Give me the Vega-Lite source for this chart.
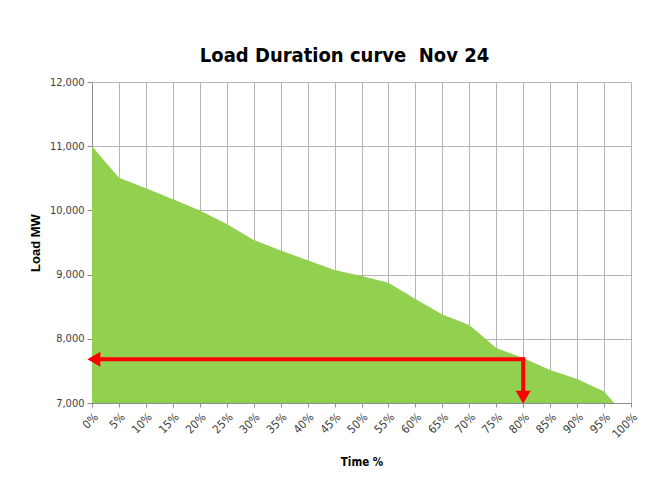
{
  "$schema": "https://vega.github.io/schema/vega-lite/v6.json",
  "width": 539,
  "height": 321,
  "autosize": {"type": "none"},
  "padding": {"left": 92, "top": 82, "right": 32, "bottom": 80},
  "background": "white",
  "title": {
    "text": "Load Duration curve \u00a0Nov 24",
    "font": "DejaVu Sans Condensed, Lato, sans-serif",
    "fontSize": 20,
    "fontWeight": "bold",
    "color": "#000000",
    "anchor": "middle",
    "dx": -17,
    "offset": 10
  },
  "config": {
    "view": {"stroke": null},
    "axis": {
      "labelFont": "DejaVu Sans Condensed, Lato, sans-serif",
      "labelFontSize": 11,
      "labelColor": "#404040",
      "titleFont": "DejaVu Sans Condensed, Lato, sans-serif",
      "titleFontWeight": "bold",
      "titleColor": "#000000",
      "gridColor": "#b5b5b5",
      "gridWidth": 1,
      "gridOpacity": 1,
      "domainColor": "#8c8c8c",
      "tickColor": "#8c8c8c",
      "tickSize": 5
    }
  },
  "data": {
    "values": [
      {"series": "load", "x": 0, "y": 11000},
      {"series": "load", "x": 5, "y": 10510},
      {"series": "load", "x": 10, "y": 10345},
      {"series": "load", "x": 15, "y": 10175},
      {"series": "load", "x": 20, "y": 10000},
      {"series": "load", "x": 25, "y": 9790},
      {"series": "load", "x": 30, "y": 9540},
      {"series": "load", "x": 35, "y": 9375},
      {"series": "load", "x": 40, "y": 9225},
      {"series": "load", "x": 45, "y": 9070},
      {"series": "load", "x": 50, "y": 8980},
      {"series": "load", "x": 55, "y": 8875},
      {"series": "load", "x": 60, "y": 8620},
      {"series": "load", "x": 65, "y": 8380},
      {"series": "load", "x": 70, "y": 8215},
      {"series": "load", "x": 75, "y": 7855},
      {"series": "load", "x": 80, "y": 7700},
      {"series": "load", "x": 85, "y": 7515},
      {"series": "load", "x": 90, "y": 7375},
      {"series": "load", "x": 95, "y": 7180},
      {"series": "load", "x": 100, "y": 6700},
      {"series": "hline", "x": 1, "x2": 80, "y": 7680},
      {"series": "vline", "x": 80, "y": 7680, "y2": 7150},
      {"series": "lhead", "x": 0.35, "y": 7680},
      {"series": "dhead", "x": 80, "y": 7090}
    ]
  },
  "encoding": {
    "x": {
      "field": "x",
      "type": "quantitative",
      "scale": {"domain": [0, 100], "nice": false},
      "axis": {
        "title": "Time %",
        "titleFontSize": 11.5,
        "titlePadding": 16,
        "values": [0, 5, 10, 15, 20, 25, 30, 35, 40, 45, 50, 55, 60, 65, 70, 75, 80, 85, 90, 95, 100],
        "labelExpr": "datum.value + '%'",
        "labelAngle": -45,
        "labelFontSize": 11.5,
        "labelPadding": 4,
        "labelOverlap": false,
        "labelFlush": false,
        "labelBound": false,
        "tickSize": 4,
        "grid": true
      }
    },
    "y": {
      "field": "y",
      "type": "quantitative",
      "scale": {"domain": [7000, 12000], "zero": false, "nice": false},
      "axis": {
        "title": "Load MW",
        "titleFont": "Liberation Sans, sans-serif",
        "titleFontSize": 13,
        "titlePadding": 7,
        "values": [7000, 8000, 9000, 10000, 11000, 12000],
        "format": ",d",
        "labelPadding": 3,
        "labelOverlap": false,
        "labelFlush": false,
        "grid": true
      }
    }
  },
  "layer": [
    {
      "transform": [{"filter": "datum.series === 'load'"}],
      "mark": {"type": "area", "color": "#92D050", "clip": true, "opacity": 1}
    },
    {
      "transform": [{"filter": "datum.series === 'hline'"}],
      "mark": {"type": "rule", "color": "#FF0000", "strokeWidth": 4, "strokeCap": "square"},
      "encoding": {"x2": {"field": "x2"}}
    },
    {
      "transform": [{"filter": "datum.series === 'vline'"}],
      "mark": {"type": "rule", "color": "#FF0000", "strokeWidth": 4, "strokeCap": "square"},
      "encoding": {"y2": {"field": "y2"}}
    },
    {
      "transform": [{"filter": "datum.series === 'lhead'"}],
      "mark": {"type": "point", "shape": "triangle-left", "filled": true, "color": "#FF0000", "size": 225, "opacity": 1}
    },
    {
      "transform": [{"filter": "datum.series === 'dhead'"}],
      "mark": {"type": "point", "shape": "triangle-down", "filled": true, "color": "#FF0000", "size": 225, "opacity": 1}
    }
  ]
}
